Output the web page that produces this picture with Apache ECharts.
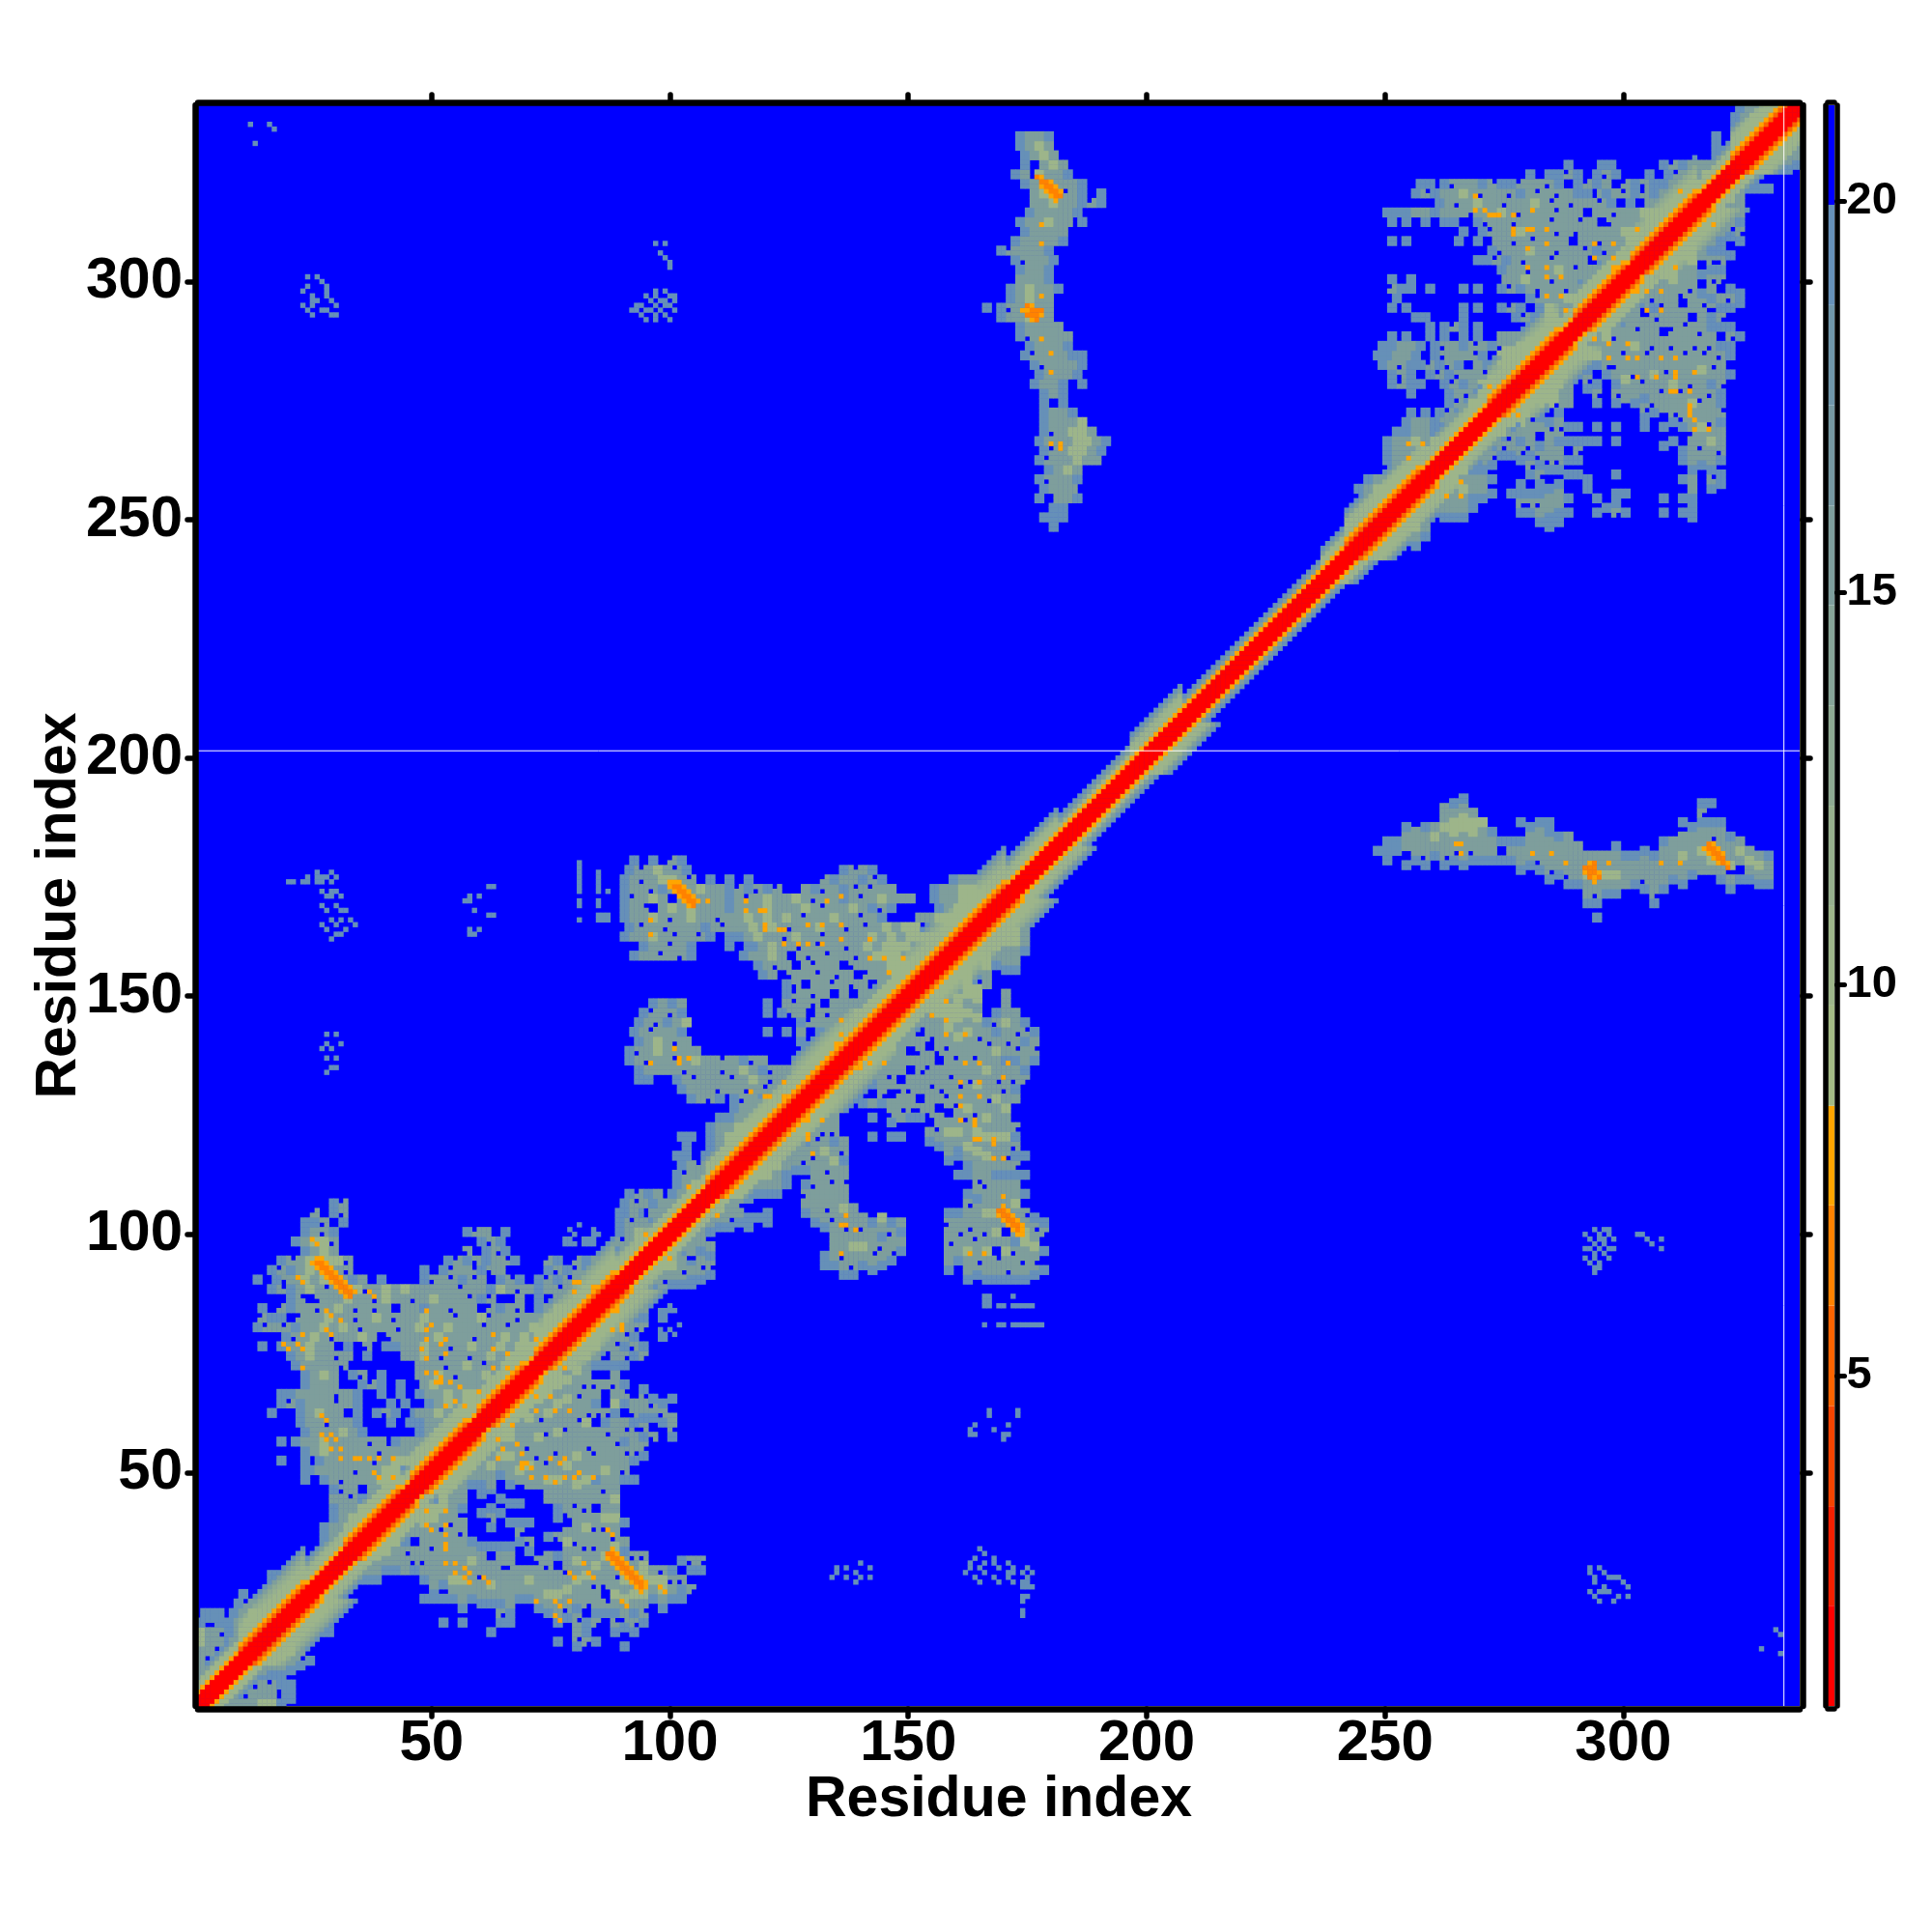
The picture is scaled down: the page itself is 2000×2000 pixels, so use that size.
<!DOCTYPE html>
<html><head><meta charset="utf-8">
<style>html,body{margin:0;background:#fff}#c{width:2000px;height:2000px}</style>
<script src="https://cdn.jsdelivr.net/npm/echarts@6/dist/echarts.min.js"></script>
</head><body><div id="c"></div>
<script>
const RESIDUES = 337;
const TICKS_XY = [50,100,150,200,250,300];
const BAR_TICKS = [5,10,15,20];
const BAND_EDGES = [0.79,2.07,3.34,4.62,5.9,7.18,8.45,9.73,11.0,12.28,13.56,14.84,16.11,17.39,18.67,19.95,21.22];
const BAND_COLORS = ['#ff0000','#f42000','#f44400','#fa6400','#ff8200','#ffa500','#a3ba85','#9db58a','#96b08e','#8eaa92','#86a497','#7e9e9c','#7698a1','#7096aa','#6690b8','#0000ff'];
const CHAR_VALUES = {a:19.2,b:15,c:10.2,d:17};
const HOT_VALUE = 7.6, DEEP_VALUE = 6;

// diagonal zones: first residue, last residue, halo half-width, helix flag
const DIAG_ZONES = [[1,9,7,0],[10,23,11,1],[24,31,8,0],[32,43,9,1],[44,45,7,0],[46,57,10,1],[58,59,8,0],[60,69,9,1],[70,71,8,0],[72,88,11,1],[89,95,8,0],[96,107,7,0],[108,113,9,1],[114,125,10,1],[126,138,11,1],[139,146,9,1],[147,170,11,1],[171,181,8,0],[182,196,6,0],[197,207,8,0],[208,236,5,0],[237,241,7,0],[242,257,10,1],[258,271,8,0],[272,286,11,1],[287,289,7,0],[290,300,9,1],[301,301,8,0],[302,315,11,1],[316,322,7,0],[323,337,10,1]];
const PROFILE_HELIX = [1.2,1.2,1.6,5.5,7.6,10.2,10.2,10.2,11,12.5,14];
const PROFILE_PLAIN = [1.2,1.2,1.6,7.6,10.2,10.2,11,13];

const DOMAIN1_ROWS = ["106 29:a1","104 25:1.a3 89:a.a","102 23:aa3.a 89:a2ab","100 23:ab3a 57:a1b.a 89:abcb","98 21:abcc3 60:a3a 78:a.a 89:2bcc","96 23:abcb 57:3.a4a 89:abcc","94 18:a2bcbcc3 53:a1a3ab2a 74:1a.1a3a2 90:abcc","92 16:a1abcbcb3 48:a.a1b2a3b 74:a3a1ab2b 90:bcc","90 13:a.a3bcbcbbab.a 48:a3b1a2b.a2a 72:a1a2bb1bbbcc","88 16:a2abcb1bbc3bcbcbbbbb1bbacb3bab2bbcbcc","86 20:a2.3bbcbb3cbb3bcbbb1a1..b.a.3abcbcc","84 14:a.1abb3bcb3b3b.bbabb3bb.1ab3.abcbccc","82 14:1aa.1bbcbb3bcb3bbcbb2bbc1bb3bbcbcccb","80 13:a1b1abbcbcb3bbb3bcbbcbbb1b2bbcbccca","78 19:a3bcb3bbcb.3bbb3cbbb3bbcbcbcccc","76 14:a.a 20:bbcbb 32:a.3.a 42:abbcbb3bcbbcbcccc","74 20:abcbb3b 36:a 44:bbcb3bb3bcbccc","72 21:abbbb3 47:bbb3bcb1bcccc","70 23:abcb 33:a3.a 47:bbcb3bbcbcc","68 23:abbb 35:a1a.a 48:bcbb3bbccc","66 18:aabbbb3ba 39:a.a.a 49:bbcbccc","64 18:a1abbb1ba 41:a 44:a 49:abcbcc","62 16:a 22:abcbb 34:a.a3a.a 47:bbcbcc","60 22:abb3bba 41:a 45:a 47:abbcc","58 23:abbbcba 47:abcbc","56 18:a 21:abbcbbbb3b 42:abbbbcc","54 23:abcbbbbb3bbbcc","52 18:a 23:a 26:abbbbb3bcc","50 23:aa 26:bbbb3bbcc","48 23:a 27:ab3bbbcc","46 29:a3b.bbc","44 29:bb1a.bc","42 29:abbcc","40 29:abcc","38 27:abbcc","36 27:abcc","34 28:abc","30 20:a1bcc","28 16:a.abbcc","26 16:abbcc","24 10:a 15:abcc","22 9:a1bbcc","20 2:aa 8:abcc","18 1:a 7:abcc","16 1:ab 7:abc","14 1:bb 6:abc","12 1:bb","10 1:b","8 1:b","6 1:b","5 14:b1a 20:a","3 14:bb 19:a","1 14:cc"];

const DOMAIN2_ROWS = ["178 92:a.a.1a","176 91:a2bcb1a 136:a2ba","174 90:ab3bccb1 108:a.a.a 132:1abba2a 159:abba","172 90:abb3abcbcbba1a3a1 128:ba3ba2b1bb 155:abbcca","170 90:a1bcb.bcb3bab1bcbbcb3bbab1bcbbb 155:abbccc","168 90:ab2.bcbcbbbab3bcbbbcb1bbcba3a 156:abcccc","166 86:a.abbcb3bcbb3bbcbcbcb1bbcbb1ba 152:bbccc","164 91:a2bb3bbbab1bbcbcb3bbcbb3b1bcbcc","162 90:abbcb2bb1a.a.a 114:abcbb3cbb1b3bbcbcbcccc","160 94:abb1ba 112:a.a 117:abcbb3b1bb3bcbccc","158 92:abb1b3a 115:abbcb.b3b1bb3bccc","156 118:ab3b.b1bb.3bbbcc","154 119:ab.3bb1b3b.1bbcc","152 124:a3.bb1b3b.bbcbc","150 124:a1b3b.b.bb3bcc","148 96:abab 120:a 124:b1b3.bb3bbcc","146 94:a1b3a 120:a 123:a3b.b3bbcbc","144 93:ab3abc 127:a1bb.3bbcc","142 92:ab1bba 120:a 124:a 127:b.a3bbcc","140 93:abcb3b 127:a.a3bbcc","138 91:a3bcb1bb 128:ab3bbcc","136 91:ab3bb1bcbb1ba3b 126:abbbcc","134 93:abbbb3bbb3bcba3bbab","132 93:aa 101:ab1bbb1bcb3bbbc","130 102:abbb3bb3b1bbcb","128 104:ab3a 113:a3b1bbbcc","126 113:abbbbbc","124 110:aabbcbcc","122 108:abbcbcc","120 102:aa 108:abcbcc","118 103:a 108:abbcc","116 101:aa.abbcc","114 102:ab1bbcc","112 101:a1bbcc","110 101:abcc","108 91:a1 95:ab 100:abcc","106 90:a2bab3bbc","104 90:ab.bbcbc","102 92:bb1bcc","100 91:abbcc","98 89:abc"];

const DOMAIN3_ROWS = ["336 324:abbcc","334 323:abcc","332 324:abc","330 319:a.a3bcc","328 319:a.bcc","326 319:ab1bc","324 288:a 295:aa 308:a1a3bbcbc","322 280:a 284:aa 286:a1a 294:a3a 305:a.a1abc","320 257:aa 262:a3bba2a 276:a1bb3a.a1ab.1a3a 304:a.a3bbcc","318 256:a2abbcb3bb3ab1b3ba.3 292:a1ab1a 304:1a3bbbcc","316 261:ab3bcbb3bbcb1b3bb1a.a.bbbcc","314 250:aa 254:abbab 262:abb3bbcb3bbb1bb.bb3bbccc","312 251:a 254:a 258:a 262:aa 269:a3bb3bbb1bb1b.3bbbcbcc","310 266:a 270:a1bbcbbb3b3bbbbcc","308 251:a 254:a 265:a 269:a.bb3b1bbb.bb3bbcc","306 272:a3bbcbb3bb1a3bbbccc","304 269:aa1ab3bb1bbb.3abbcc","302 274:abb3bbcb1b3bbbccc","300 251:a.a 275:bbcbb3bb3bbcc","298 251:1aa.a 266:a 269:a 274:a1ab3bb3bbcc","296 252:a 280:a1bbcbb1bcc","294 251:a 254:a 266:a 269:a 274:a1a.abb3bcc","292 256:aa 266:a 277:a1 281:abb3bbcc","290 259:a 262:a1 266:a 269:a 284:ab3bcc","288 251:a 254:a 259:a 262:a 266:a 269:a 274:bb3bbbcc","286 249:aabba 260:a3ba2ba3bbb3bbcc","284 248:aabba.a3bb2a.3bbcbbbcbcc","282 249:ab3a 257:a1a3a.ba3bbbcbcc","280 251:a3a.a1a3bb1b3bbcbcc","278 251:a1a 257:a 262:a1ab3abbbcbcc","276 255:a 263:ab3a.bbbcbcc","274 263:a1abb3bbcbcc","272 255:a 258:a 261:a1ab3bbbcc","270 254:abba3a1bbcbcc","268 252:aabbab1bcbcc","266 250:abbcbcbbbcc","264 250:abbbcbbcc","262 250:abbcbcc","260 252:abcbcc","258 246:abbcc","256 244:abcc"];

const BLOB_A_ROWS = ["330 173:abba","328 173:abcb","326 174:a 176:bcb","324 174:a 178:bcb","322 172:ab 177:cbba","320 174:abcbbba","318 176:bcb2ba 190:a","316 176:bbcbba1a","314 175:abbbba","312 173:abbcbb 186:a","310 174:abbbb","308 172:abbbba","306 169:a1bbba","304 172:a3bba","302 173:abba","300 173:bbba","298 171:abcbba","296 171:abcbb","294 166:a 169:a3bcbb","292 169:abbcbb","290 173:abbbb","288 173:a3bbbb","286 175:abbba","284 174:a1bbba 186:a","282 176:a3bbba","280 177:abbba","278 176:abba 186:a","276 178:aba","274 178:a.a","272 178:abba","270 178:abbbc","268 178:a3bccb","266 177:abbbccba","264 178:a1bccba","262 177:a1bbcbb","260 179:abcb","258 177:a3bba","256 178:abbb","254 177:a.bba","252 180:aa","250 178:a 180:aa","248 180:a"];

// far speckle clusters: row then the columns that hold a cell
const SPARSE_ROWS = ["333 12 16","332 17","329 13","301 24 26","300 27","299 24 28","298 23 28","297 25 28","296 25 26 29","295 23 25 30","294 24 27 28","293 25 29 30","308 97 99","306 98","305 99","304 100","303 100","298 97 99","297 95 97 100 101","296 96 98 99 101","295 93 94 97 99 100","294 92 93 95 96 98 101","293 94 97 99","292 95 97 100","176 26 29","175 24 26 27 28 30","174 20 21 23 24 26 27 29","172 27 29 30","171 28 29 31","169 27 30","168 28 31 32","166 29 31 33","165 27 30 34","164 28 32","163 30 31","162 29","142 28 30","140 28 31","139 27 29","137 28 30","135 29 30","134 28","173 62 63","171 58 60","170 57 58","168 59","167 62 63","164 58 60","163 58 59","178 81","176 81 85","174 81 85","172 81 85 87","170 81 85","85 166 167 169 172 173 175 100","81 166 169 173 175 177 102","100 80 84","98 80 84","84 99 101","79 99 101"];

const HOT_CELLS = "26,98 23,90 38,87 29,83 31,82 29,79 23,79 20,76 23,76 23,72 50,81 49,78 53,78 63,79 63,76 66,75 72,78 49,74 53,75 63,72 66,72 49,71 52,70 52,69 56,68 60,67 53,64 57,64 28,61 28,57 30,57 29,55 31,55 31,53 35,53 39,53 42,53 39,49 42,49 80,90 80,88 84,89 65,55 69,54 69,51 71,51 77,52 80,49 84,49 76,48 50,38 53,37 53,34 58,29 58,27 62,27 80,28 84,28 77,22 77,19 88,37 91,22 99,25 96,166 96,163 108,170 116,170 116,168 120,168 120,164 124,164 124,161 127,161 129,161 129,165 132,165 136,165 136,162 132,161 133,170 136,171 142,162 142,158 145,158 149,158 146,155 136,145 136,142 135,140 96,136 101,139 102,136 104,137 117,130 120,129 124,129 124,132 155,146 158,145 158,142 162,142 158,149 145,136 142,136 165,136 171,136 165,132 170,133 161,132 161,129 165,129 161,127 161,124 164,123 165,120 168,119 168,116 170,116 170,108 129,124 129,121 130,117 137,104 137,102 139,101 136,96 163,96 166,96 104,110 105,108 110,104 95,100 100,95 90,81 269,318 269,315 271,315 272,314 274,314 277,314 277,311 277,310 280,311 281,315 284,311 280,307 284,308 280,303 284,303 284,301 287,301 284,297 287,297 288,294 294,308 298,308 294,305 298,305 298,303 303,311 312,319 319,312 311,303 305,298 308,298 305,294 308,294 294,288 297,287 301,287 297,284 301,284 303,284 308,284 311,284 303,280 307,280 311,281 315,281 314,277 311,277 310,277 314,273 314,272 315,271 315,269 318,269 255,266 258,266 255,263 266,258 263,255 266,255 278,272 180,266 182,265 178,312 178,308 178,297 178,288 180,285 180,281 265,182 266,182 266,180 281,180 285,180 288,178 297,178 308,178 312,178 25,94 26,95 27,95 28,94 29,93 30,92 31,91 32,90 33,89 34,88 26,93 27,92 28,91 29,90 30,89 31,88 32,87 100,174 101,174 102,174 103,173 104,172 105,171 106,170 100,173 101,172 102,171 103,170 104,169 178,322 180,321 181,320 182,319 178,320 179,319 180,318 181,317 174,294 175,294 178,293 176,292 176,295";
const DEEP_CELLS = "26,94 27,94 27,93 28,93 28,92 29,92 29,91 30,91 30,90 31,90 31,89 32,89 32,88 33,88 33,87 101,173 102,173 102,172 103,172 103,171 104,171 104,170 105,170 105,169 177,322 178,321 179,321 179,320 180,320 180,319 181,319 181,318 182,318 175,295 176,294 177,294 176,293 177,293 178,294 175,293 177,292";

const cells = {};
function setCell(i, j, v) {
  if (i < 1 || j < 1 || i > RESIDUES || j > RESIDUES) return;
  const k1 = i * 1000 + j, k2 = j * 1000 + i;
  if (cells[k1] === undefined || v < cells[k1]) { cells[k1] = v; cells[k2] = v; }
}
const holes = {};
function readRows(rows) {
  rows.forEach(function (row) {
    const parts = row.split(' '), j = +parts[0];
    parts.slice(1).forEach(function (p) {
      const s = p.split(':'); let i = +s[0];
      for (const ch of s[1]) {
        if (ch !== '.') {
          const v = CHAR_VALUES[ch] !== undefined ? CHAR_VALUES[ch] : CHAR_VALUES.b;
          const gap = '1234'.indexOf(ch);
          [[0,1],[1,1],[0,0],[1,0]].forEach(function (o, n) {
            if (n === gap) { holes[(i+o[0])*1000+(j+o[1])] = 1; }
            else setCell(i+o[0], j+o[1], v);
          });
        }
        i += 2;
      }
    });
  });
}
[DOMAIN1_ROWS, DOMAIN2_ROWS, DOMAIN3_ROWS, BLOB_A_ROWS].forEach(readRows);
Object.keys(holes).forEach(function (k) { const i = Math.floor(k/1000), j = k%1000; delete cells[k]; delete cells[j*1000+i]; });
SPARSE_ROWS.forEach(function (row) {
  const p = row.split(' ').map(Number);
  p.slice(1).forEach(function (i) { setCell(i, p[0], CHAR_VALUES.a); });
});
DIAG_ZONES.forEach(function (z) {
  const prof = z[3] ? PROFILE_HELIX : PROFILE_PLAIN;
  for (let i = z[0]; i <= z[1]; i++) {
    for (let d = 0; d <= z[2]; d++) {
      let v = prof[Math.min(d, prof.length - 1)];
      if (d === z[2]) v = Math.max(v, CHAR_VALUES.a);
      else if (d === z[2] - 1) v = Math.max(v, CHAR_VALUES.b);
      setCell(i, i + d, v);
    }
  }
});
HOT_CELLS.split(' ').forEach(function (c) { const p = c.split(','); setCell(+p[0], +p[1], HOT_VALUE); });
DEEP_CELLS.split(' ').forEach(function (c) { const p = c.split(','); setCell(+p[0], +p[1], DEEP_VALUE); });

const heat = [];
Object.keys(cells).forEach(function (k) {
  const i = Math.floor(k / 1000), j = k % 1000;
  heat.push([i - 1, j - 1, cells[k]]);
});
const residueNames = [];
for (let r = 1; r <= RESIDUES; r++) residueNames.push(String(r));
const isTick = function (idx, val) { return TICKS_XY.indexOf(+val) >= 0; };
const pieces = BAND_COLORS.map(function (c, n) { return {gte: BAND_EDGES[n], lt: BAND_EDGES[n+1], color: c}; });

const FONT = '"Liberation Sans", Arial, sans-serif';
const frame = {show: true, onZero: false, lineStyle: {color: '#000', width: 6.5, cap: 'round'}};
const frameTick = {show: true, length: 8, interval: isTick, lineStyle: {color: '#000', width: 5.5, cap: 'round'}};
const mainAxis = function (pos, extra) {
  return Object.assign({type: 'category', data: residueNames, boundaryGap: false, gridIndex: 0, position: pos, offset: 3, z: 6,
    axisLine: frame, axisTick: frameTick, splitLine: {show: false},
    axisLabel: {show: false}}, extra);
};
const labelStyle = {show: true, interval: isTick, fontFamily: FONT, fontWeight: 'bold', fontSize: 60, color: '#000', hideOverlap: false};
const nameStyle = {fontFamily: FONT, fontWeight: 'bold', fontSize: 59, color: '#000'};
const barFrame = {show: true, onZero: false, lineStyle: {color: '#000', width: 5.5, cap: 'round'}};

const chart = echarts.init(document.getElementById('c'), null, {renderer: 'canvas', width: 2000, height: 2000});
chart.setOption({
  animation: false,
  backgroundColor: '#fff',
  grid: [
    {left: 205, top: 109, width: 1658, height: 1657, show: true, backgroundColor: '#0000ff', borderWidth: 0, outerBoundsMode: 'none'},
    {left: 205, top: 109, width: 1658, height: 1657, outerBoundsMode: 'none'},
    {left: 1892, top: 109, width: 7, height: 1657, outerBoundsMode: 'none'}
  ],
  xAxis: [
    mainAxis('bottom', {axisLabel: Object.assign({}, labelStyle, {margin: 6}), name: 'Residue index', nameLocation: 'middle', nameGap: 65, nameMoveOverlap: false, nameTextStyle: nameStyle}),
    mainAxis('top', {}),
    {type: 'value', gridIndex: 1, min: 1, max: RESIDUES, show: false},
    {type: 'category', data: [''], gridIndex: 2, position: 'bottom', offset: 3, z: 6, axisLine: barFrame, axisTick: {show: false}, axisLabel: {show: false}},
    {type: 'category', data: [''], gridIndex: 2, position: 'top', offset: 3, z: 6, axisLine: barFrame, axisTick: {show: false}, axisLabel: {show: false}}
  ],
  yAxis: [
    mainAxis('left', {axisLabel: Object.assign({}, labelStyle, {margin: 13, padding: [6,0,0,0]}), name: 'Residue index', nameLocation: 'middle', nameGap: 111, nameRotate: 90, nameMoveOverlap: false, nameTextStyle: nameStyle}),
    mainAxis('right', {}),
    {type: 'value', gridIndex: 1, min: 1, max: RESIDUES, show: false},
    {type: 'value', gridIndex: 2, position: 'left', offset: 2.5, min: BAND_EDGES[0], max: BAND_EDGES[16], z: 6, splitLine: {show: false}, axisLine: barFrame, axisTick: {show: false}, axisLabel: {show: false}},
    {type: 'value', gridIndex: 2, position: 'right', offset: 2.5, min: BAND_EDGES[0], max: BAND_EDGES[16], z: 6, splitLine: {show: false}, axisLine: barFrame,
      axisTick: {show: true, length: 8, customValues: BAR_TICKS, lineStyle: {color: '#000', width: 5, cap: 'round'}},
      axisLabel: {show: true, margin: 10, padding: [8,0,0,0], customValues: BAR_TICKS, fontFamily: FONT, fontWeight: 'bold', fontSize: 47, color: '#000'}}
  ],
  visualMap: {type: 'piecewise', show: false, seriesIndex: 0, dimension: 2, pieces: pieces},
  series: [
    {type: 'heatmap', xAxisIndex: 0, yAxisIndex: 0, data: heat, progressive: 0, z: 2, silent: true, emphasis: {disabled: true}},
    {type: 'line', xAxisIndex: 2, yAxisIndex: 2, data: [[1,201.5],[RESIDUES,201.5]], showSymbol: false, silent: true, z: 3, lineStyle: {color: '#fff', width: 1}},
    {type: 'line', xAxisIndex: 2, yAxisIndex: 2, data: [[333.7,1],[333.7,RESIDUES]], showSymbol: false, silent: true, z: 3, lineStyle: {color: '#fff', width: 1}},
    {type: 'custom', xAxisIndex: 3, yAxisIndex: 3, silent: true, z: 2, clip: false,
      data: BAND_COLORS.map(function (c, n) { return [0, BAND_EDGES[n], BAND_EDGES[n+1]]; }),
      encode: {x: 0, y: [1, 2]},
      renderItem: function (params, api) {
        const lo = api.coord([0, api.value(1)]), hi = api.coord([0, api.value(2)]);
        const w = api.size([1, 0])[0];
        return {type: 'rect', shape: {x: lo[0] - w / 2, y: hi[1], width: w, height: lo[1] - hi[1]}, style: {fill: BAND_COLORS[params.dataIndex]}};
      }}
  ]
});
</script></body></html>
